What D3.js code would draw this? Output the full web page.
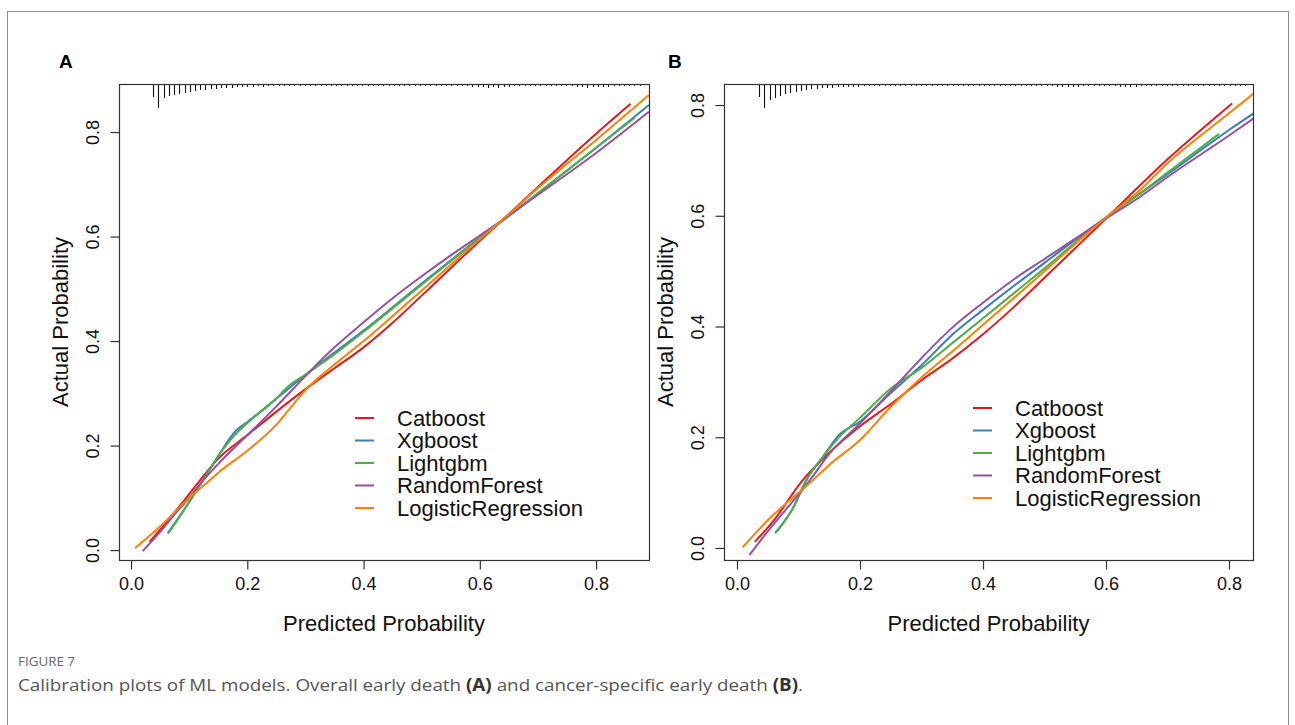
<!DOCTYPE html>
<html>
<head>
<meta charset="utf-8">
<script src="https://cdn.jsdelivr.net/npm/d3@7"></script>
<style>
  body { margin: 0; background: #fff; }
  svg { display: block; }
</style>
</head>
<body>
<div id="chart"></div>
<script>
// model names and colours (R Set1 palette)
const models = ["Catboost", "Xgboost", "Lightgbm", "RandomForest", "LogisticRegression"];
const colors = ["#E41A1C", "#377EB8", "#4DAF4A", "#984EA3", "#FF7F00"];
const ticks = [0.0, 0.2, 0.4, 0.6, 0.8];

// panel A: calibration curves [predicted, actual]
const catboostA = [[0.032,0.016],[0.06,0.052],[0.09,0.093],[0.119,0.134],[0.15,0.175],[0.2,0.22],[0.25,0.265],[0.3,0.308],[0.35,0.348],[0.4,0.388],[0.45,0.435],[0.5,0.487],[0.6,0.592],[0.65,0.643],[0.7,0.695],[0.8,0.797],[0.859,0.854]];
const xgboostA = [[0.063,0.032],[0.09,0.075],[0.124,0.134],[0.15,0.18],[0.18,0.228],[0.2,0.245],[0.25,0.29],[0.3,0.335],[0.35,0.378],[0.4,0.42],[0.5,0.51],[0.6,0.598],[0.65,0.64],[0.7,0.683],[0.8,0.77],[0.891,0.852]];
const lightgbmA = [[0.066,0.035],[0.09,0.075],[0.124,0.134],[0.15,0.18],[0.18,0.222],[0.2,0.243],[0.25,0.29],[0.27,0.313],[0.3,0.336],[0.35,0.375],[0.4,0.418],[0.5,0.508],[0.6,0.597],[0.65,0.64],[0.7,0.683],[0.8,0.77],[0.866,0.827]];
const randomForestA = [[0.02,-0.002],[0.05,0.035],[0.08,0.075],[0.1,0.1],[0.12,0.128],[0.15,0.165],[0.2,0.22],[0.25,0.275],[0.3,0.333],[0.35,0.388],[0.4,0.436],[0.45,0.482],[0.5,0.524],[0.55,0.564],[0.6,0.602],[0.65,0.64],[0.7,0.68],[0.8,0.76],[0.891,0.839]];
const logisticA = [[0.007,0.004],[0.05,0.045],[0.1,0.1],[0.136,0.134],[0.15,0.148],[0.2,0.19],[0.25,0.24],[0.28,0.28],[0.3,0.306],[0.35,0.355],[0.4,0.4],[0.5,0.497],[0.6,0.595],[0.65,0.643],[0.7,0.693],[0.8,0.785],[0.891,0.871]];

// panel B
const catboostB = [[0.029,0.011],[0.06,0.05],[0.105,0.12],[0.15,0.172],[0.2,0.22],[0.25,0.26],[0.3,0.303],[0.35,0.342],[0.4,0.386],[0.45,0.435],[0.5,0.488],[0.6,0.595],[0.7,0.702],[0.805,0.803]];
const xgboostB = [[0.062,0.027],[0.09,0.07],[0.113,0.123],[0.14,0.165],[0.166,0.204],[0.2,0.228],[0.25,0.28],[0.3,0.33],[0.35,0.385],[0.4,0.43],[0.5,0.515],[0.6,0.597],[0.655,0.64],[0.7,0.675],[0.8,0.755],[0.84,0.785]];
const lightgbmB = [[0.065,0.03],[0.09,0.07],[0.113,0.123],[0.14,0.165],[0.166,0.2],[0.2,0.235],[0.25,0.288],[0.3,0.325],[0.35,0.37],[0.4,0.415],[0.5,0.505],[0.6,0.597],[0.655,0.64],[0.7,0.678],[0.784,0.748]];
const randomForestB = [[0.02,-0.013],[0.05,0.03],[0.08,0.07],[0.119,0.123],[0.15,0.17],[0.2,0.225],[0.25,0.283],[0.3,0.343],[0.35,0.398],[0.4,0.443],[0.45,0.485],[0.5,0.522],[0.6,0.595],[0.655,0.634],[0.7,0.67],[0.8,0.745],[0.84,0.776]];
const logisticB = [[0.009,0.001],[0.05,0.05],[0.124,0.123],[0.15,0.15],[0.2,0.195],[0.25,0.255],[0.3,0.308],[0.35,0.355],[0.4,0.403],[0.5,0.5],[0.6,0.597],[0.655,0.646],[0.7,0.695],[0.8,0.785],[0.84,0.821]];

// rug of predicted probabilities (relative frequency per bin)
const rugStartA = 0.038, rugStepA = 0.009;
const rugA = [13,24,14,12,11,10,9,8,7,6,6,5,5,4,4,4,3,3,3,3,
  2,3,2,2,2,2,2,2,2,2,2,2,2,2,2,2,2,2,2,2,
  2,2,2,2,2,2,2,2,2,2,2,2,2,2,2,2,2,2,2,2,
  2,3,3,3,4,3,4,3,3,2,2,2,2,2,2,2,2,2,2,2,
  2,3,3,4,3,3,3,3,2,2,2,2,2,2,1];
const rugStartB = 0.036, rugStepB = 0.0085;
const rugB = [13,24,16,14,12,10,9,8,7,6,5,5,4,4,4,3,3,3,3,3,
  2,2,2,2,2,2,2,2,2,2,2,2,2,2,2,2,2,2,2,2,
  2,2,2,2,2,2,2,2,2,2,2,2,2,2,2,2,2,3,3,3,
  3,3,2,2,2,2,2,2,2,3,3,3,3,2,2,2,2,2,2,2,
  2,2,2,2,2,2,2,2,2,2,2,2,2,2,1];

const W = 1295, H = 725;
const svg = d3.select("#chart").append("svg")
    .attr("width", W).attr("height", H);

svg.append("rect")
    .attr("x", 7.5).attr("y", 11.5)
    .attr("width", 1281).attr("height", 740)
    .attr("fill", "none").attr("stroke", "#8a8a8a");

const panels = [
  { label: "A", lx: 59, box: [119, 649, 84, 560], xd: [-0.0207, 0.891], yd: [-0.019, 0.892],
    series: [catboostA, xgboostA, lightgbmA, randomForestA, logisticA],
    rug: rugA, rugStart: rugStartA, rugStep: rugStepA, legend: [355, 418] },
  { label: "B", lx: 668, box: [724, 1253, 84, 560], xd: [-0.0211, 0.839], yd: [-0.0217, 0.838],
    series: [catboostB, xgboostB, lightgbmB, randomForestB, logisticB],
    rug: rugB, rugStart: rugStartB, rugStep: rugStepB, legend: [973, 408] }
];

const font = "'Liberation Sans', Arial, Helvetica, sans-serif";

panels.forEach(p => {
  const [x0, x1, y0, y1] = p.box;
  const x = d3.scaleLinear().domain(p.xd).range([x0, x1]);
  const y = d3.scaleLinear().domain(p.yd).range([y1, y0]);
  const g = svg.append("g");

  g.append("text")
      .attr("x", p.lx).attr("y", 68)
      .attr("font-family", font).attr("font-weight", "bold")
      .attr("font-size", 19).text(p.label);

  // rug hanging from the top of the box
  const rugLen = d3.scaleLinear().domain([0, 24]).range([0, 24]);
  g.append("g")
      .attr("stroke", "#111").attr("stroke-width", 1.1)
    .selectAll("line")
    .data(p.rug)
    .join("line")
      .attr("x1", (d, i) => Math.round(x(p.rugStart + i * p.rugStep)) + 0.5)
      .attr("x2", (d, i) => Math.round(x(p.rugStart + i * p.rugStep)) + 0.5)
      .attr("y1", y0)
      .attr("y2", d => y0 + rugLen(d));

  // curves
  const line = d3.line()
      .x(d => x(d[0])).y(d => y(d[1]))
      .curve(d3.curveMonotoneX);
  g.append("g")
    .selectAll("path")
    .data(p.series)
    .join("path")
      .attr("d", line)
      .attr("fill", "none")
      .attr("stroke", (d, i) => colors[i])
      .attr("stroke-width", 2);

  // box
  g.append("rect")
      .attr("x", x0 + 0.5).attr("y", y0 + 0.5)
      .attr("width", x1 - x0).attr("height", y1 - y0)
      .attr("fill", "none").attr("stroke", "#333").attr("stroke-width", 1.2);

  // axes
  const xAxis = g.append("g")
      .attr("transform", `translate(0,${y1 + 0.5})`)
      .call(d3.axisBottom(x).tickValues(ticks).tickFormat(d3.format(".1f")).tickSize(9).tickPadding(8));
  xAxis.select(".domain").remove();
  xAxis.selectAll("line").attr("stroke", "#333").attr("stroke-width", 1.2);
  xAxis.selectAll("text")
      .attr("font-family", font).attr("font-size", 18).attr("fill", "#111");

  const yAxis = g.append("g")
      .attr("transform", `translate(${x0 + 0.5},0)`)
      .call(d3.axisLeft(y).tickValues(ticks).tickFormat(d3.format(".1f")).tickSize(9));
  yAxis.select(".domain").remove();
  yAxis.selectAll("line").attr("stroke", "#333").attr("stroke-width", 1.2);
  yAxis.selectAll("text")
      .attr("font-family", font).attr("font-size", 18).attr("fill", "#111")
      .attr("x", null)
      .attr("text-anchor", "middle")
      .attr("transform", "translate(-27,0) rotate(-90)")
      .attr("dy", "0.35em");

  g.append("text")
      .attr("x", (x0 + x1) / 2).attr("y", 631)
      .attr("text-anchor", "middle")
      .attr("font-family", font).attr("font-size", 22).attr("fill", "#111")
      .text("Predicted Probability");

  g.append("text")
      .attr("transform", `translate(${x0 - 51},${(y0 + y1) / 2}) rotate(-90)`)
      .attr("text-anchor", "middle")
      .attr("font-family", font).attr("font-size", 22).attr("fill", "#111")
      .text("Actual Probability");

  // legend
  const [lgx, lgy] = p.legend;
  const leg = g.append("g")
    .selectAll("g")
    .data(models)
    .join("g")
      .attr("transform", (d, i) => `translate(${lgx},${lgy + i * 22.5})`);
  leg.append("line")
      .attr("x1", 0).attr("x2", 19)
      .attr("stroke", (d, i) => colors[i]).attr("stroke-width", 2);
  leg.append("text")
      .attr("x", 42).attr("dy", "0.35em")
      .attr("font-family", font).attr("font-size", 22).attr("fill", "#111")
      .text(d => d);
});

// caption
const capFont = "'Liberation Sans Narrow', 'Open Sans', 'Noto Sans', sans-serif";
svg.append("text")
    .attr("x", 18).attr("y", 666)
    .attr("font-family", capFont)
    .attr("font-size", 13).attr("fill", "#666")
    .attr("textLength", 57).attr("lengthAdjust", "spacingAndGlyphs")
    .text("FIGURE 7");

const cap = svg.append("text")
    .attr("x", 18).attr("y", 691)
    .attr("font-family", capFont)
    .attr("font-size", 17).attr("fill", "#555")
    .attr("textLength", 785).attr("lengthAdjust", "spacingAndGlyphs");
cap.append("tspan").text("Calibration plots of ML models. Overall early death ");
cap.append("tspan").attr("font-weight", "bold").attr("fill", "#333").text("(A)");
cap.append("tspan").text(" and cancer-specific early death ");
cap.append("tspan").attr("font-weight", "bold").attr("fill", "#333").text("(B)");
cap.append("tspan").text(".");
</script>
</body>
</html>
